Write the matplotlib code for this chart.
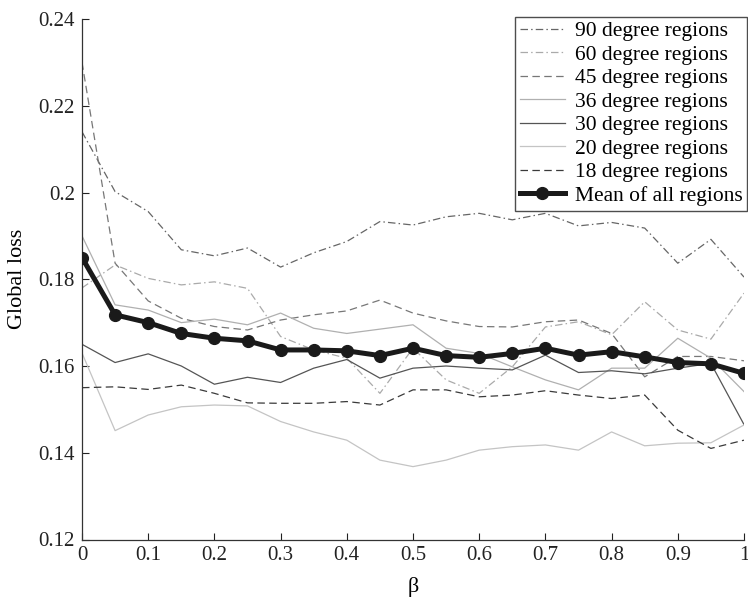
import matplotlib
matplotlib.use("Agg")
import matplotlib.pyplot as plt
import numpy as np

beta = [0.0, 0.05, 0.1, 0.15, 0.2, 0.25, 0.3, 0.35, 0.4, 0.45, 0.5,
        0.55, 0.6, 0.65, 0.7, 0.75, 0.8, 0.85, 0.9, 0.95, 1.0]

loss_90 = [0.214, 0.2002, 0.1956, 0.1868, 0.1854, 0.1872, 0.1828, 0.1861, 0.1887, 0.1933, 0.1925,
           0.1944, 0.1952, 0.1937, 0.1952, 0.1923, 0.1931, 0.1918, 0.1837, 0.1892, 0.1805]
loss_60 = [0.178, 0.1833, 0.1802, 0.1787, 0.1794, 0.1779, 0.1668, 0.1637, 0.1618, 0.1537, 0.1641,
           0.1568, 0.1537, 0.1598, 0.1690, 0.1702, 0.1672, 0.1748, 0.1683, 0.1662, 0.1768]
loss_45 = [0.230, 0.1837, 0.1750, 0.1710, 0.1691, 0.1683, 0.1706, 0.1718, 0.1727, 0.1752, 0.1722,
           0.1704, 0.1691, 0.1690, 0.1702, 0.1706, 0.1675, 0.1575, 0.1622, 0.1622, 0.1612]
loss_36 = [0.190, 0.1741, 0.1729, 0.1700, 0.1708, 0.1695, 0.1722, 0.1687, 0.1675, 0.1685, 0.1695,
           0.1641, 0.1629, 0.1598, 0.1568, 0.1545, 0.1595, 0.1595, 0.1664, 0.1618, 0.1541]
loss_30 = [0.165, 0.1608, 0.1628, 0.1600, 0.1558, 0.1574, 0.1562, 0.1595, 0.1615, 0.1572, 0.1595,
           0.1600, 0.1595, 0.1591, 0.1625, 0.1585, 0.1589, 0.1582, 0.1595, 0.1606, 0.1465]
loss_20 = [0.163, 0.1451, 0.1487, 0.1506, 0.1510, 0.1508, 0.1472, 0.1448, 0.1429, 0.1383, 0.1368,
           0.1383, 0.1406, 0.1414, 0.1418, 0.1406, 0.1448, 0.1416, 0.1422, 0.1423, 0.1464]
loss_18 = [0.155, 0.1552, 0.1546, 0.1556, 0.1537, 0.1515, 0.1514, 0.1514, 0.1518, 0.1510, 0.1545,
           0.1545, 0.1529, 0.1533, 0.1543, 0.1533, 0.1525, 0.1533, 0.1452, 0.1410, 0.1429]
loss_mean = [0.185, 0.1718, 0.1700, 0.1675, 0.1664, 0.1658, 0.1637, 0.1637, 0.1635, 0.1624, 0.1641,
             0.1624, 0.1620, 0.1629, 0.1641, 0.1625, 0.1633, 0.1621, 0.1608, 0.1605, 0.1583]

labels = ["90 degree regions", "60 degree regions", "45 degree regions", "36 degree regions",
          "30 degree regions", "20 degree regions", "18 degree regions", "Mean of all regions"]
x_ticks = [0, 0.1, 0.2, 0.3, 0.4, 0.5, 0.6, 0.7, 0.8, 0.9, 1]
x_ticklabels = ["0", "0.1", "0.2", "0.3", "0.4", "0.5", "0.6", "0.7", "0.8", "0.9", "1"]
y_ticks = [0.12, 0.14, 0.16, 0.18, 0.2, 0.22, 0.24]
y_ticklabels = ["0.12", "0.14", "0.16", "0.18", "0.2", "0.22", "0.24"]

plt.rcParams['font.family'] = ['Liberation Serif', 'DejaVu Serif']

fig = plt.figure(figsize=(7.48, 6.01), dpi=100)
ax = fig.add_axes([82/748, 1-539.5/601, (744-82)/748, (539.5-19)/601])

series = [loss_90, loss_60, loss_45, loss_36, loss_30, loss_20, loss_18]
styles = [
    dict(color="#666666", ls=(0, (6, 2.5, 1.2, 2.5))),
    dict(color="#aaaaaa", ls=(0, (6, 2.5, 1.2, 2.5))),
    dict(color="#777777", ls=(0, (6, 3.5))),
    dict(color="#b0b0b0", ls="-"),
    dict(color="#555555", ls="-"),
    dict(color="#c4c4c4", ls="-"),
    dict(color="#3a3a3a", ls=(0, (6, 3.5))),
]
for s, st, lab in zip(series, styles, labels[:7]):
    ax.plot(beta, s, lw=0.9, label=lab, **st)
ax.plot(beta, loss_mean, color="#1a1a1a", lw=3.6, marker="o", ms=8.5,
        label=labels[7], zorder=5)

ax.set_xlim(0, 1)
ax.set_ylim(0.12, 0.24)
ax.set_xticks(x_ticks)
ax.set_xticklabels(x_ticklabels)
ax.set_yticks(y_ticks)
ax.set_yticklabels(y_ticklabels)
ax.tick_params(direction="in", length=5, width=0.8, labelsize=15, colors="#222222", pad=5)
for sp in ["top", "right"]:
    ax.spines[sp].set_visible(False)
for sp in ["left", "bottom"]:
    ax.spines[sp].set_color("#333333")
    ax.spines[sp].set_linewidth(0.9)

ax.set_xlabel("β", fontsize=16, labelpad=8)
ax.set_ylabel("Global loss", fontsize=16, labelpad=8)

leg = ax.legend(loc="upper right", bbox_to_anchor=(747/748, 1-16.5/601),
                bbox_transform=fig.transFigure, borderaxespad=0, fontsize=15.5,
                frameon=True, fancybox=False, edgecolor="#222222",
                labelspacing=0.16, handlelength=2.1, handletextpad=0.45,
                borderpad=0.22)
leg.get_frame().set_linewidth(1.0)

fig.savefig("out.png", dpi=100)
